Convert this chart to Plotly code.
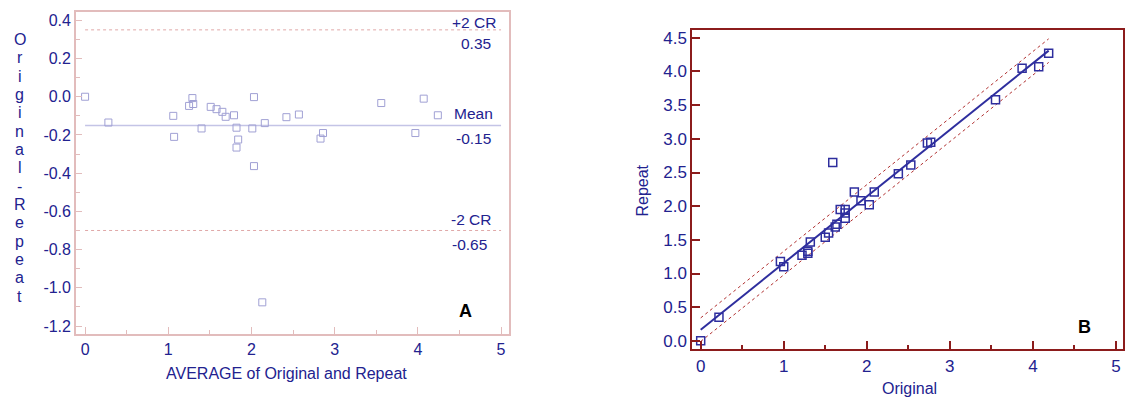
import plotly.graph_objects as go

# ---------------- Data ----------------
# Panel A: Bland-Altman (average vs difference)
avg_vals = [0.00, 0.28, 1.06, 1.07, 1.25, 1.29, 1.30, 1.40, 1.51, 1.58, 1.65, 1.69,
            1.79, 1.82, 1.84, 1.82, 2.01, 2.03, 2.03, 2.16, 2.13, 2.42, 2.57, 2.86,
            2.83, 3.56, 4.07, 3.97, 4.24]
diff_vals = [0.000, -0.135, -0.100, -0.210, -0.048, -0.007, -0.038, -0.166, -0.053, -0.065,
             -0.079, -0.105, -0.097, -0.162, -0.224, -0.266, -0.166, -0.002, -0.363, -0.138,
             -1.076, -0.107, -0.093, -0.190, -0.219, -0.033, -0.010, -0.190, -0.097]
upper_cr = 0.35
mean_diff = -0.15
lower_cr = -0.70
limit_x = [0, 5]
ref_labels = ["+2 CR", "0.35", "Mean", "-0.15", "-2 CR", "-0.65"]

# Panel B: Original vs Repeat
orig_vals = [0.00, 0.22, 0.96, 1.00, 1.22, 1.29, 1.29, 1.32, 1.50, 1.54, 1.62, 1.64,
             1.68, 1.74, 1.74, 1.74, 1.93, 2.03, 1.59, 1.85, 2.09, 2.38, 2.53, 2.73,
             2.77, 3.55, 3.87, 4.07, 4.19]
repeat_vals = [0.00, 0.35, 1.18, 1.10, 1.27, 1.30, 1.33, 1.47, 1.54, 1.60, 1.69, 1.73,
               1.95, 1.95, 1.90, 1.82, 2.08, 2.02, 2.65, 2.21, 2.21, 2.48, 2.61, 2.94,
               2.95, 3.58, 4.05, 4.07, 4.27]
fit_intercept = 0.166
fit_slope = 0.989
band_half = 0.175

# Tick labels
a_xticks = [0, 1, 2, 3, 4, 5]
a_xtext = ["0", "1", "2", "3", "4", "5"]
a_yticks = [0.4, 0.2, 0.0, -0.2, -0.4, -0.6, -0.8, -1.0, -1.2]
a_ytext = ["0.4", "0.2", "0.0", "-0.2", "-0.4", "-0.6", "-0.8", "-1.0", "-1.2"]
b_xticks = [0, 1, 2, 3, 4, 5]
b_xtext = ["0", "1", "2", "3", "4", "5"]
b_yticks = [0.0, 0.5, 1.0, 1.5, 2.0, 2.5, 3.0, 3.5, 4.0, 4.5]
b_ytext = ["0.0", "0.5", "1.0", "1.5", "2.0", "2.5", "3.0", "3.5", "4.0", "4.5"]

# ---------------- Styles ----------------
NAVY = "#22228f"
PINK = "#e2bcbc"
LAV = "#a0a0d4"
DARKRED = "#8c1c1c"
BLUE = "#2e2e9e"
FONT = "Liberation Sans, Arial, sans-serif"

fig = go.Figure()

# Panel A traces
fig.add_trace(go.Scatter(x=limit_x, y=[upper_cr, upper_cr], mode="lines",
                         line=dict(color="#e0a8a8", width=1, dash="dot"),
                         xaxis="x", yaxis="y", hoverinfo="skip"))
fig.add_trace(go.Scatter(x=limit_x, y=[mean_diff, mean_diff], mode="lines",
                         line=dict(color="#c4c4e6", width=1.5),
                         xaxis="x", yaxis="y", hoverinfo="skip"))
fig.add_trace(go.Scatter(x=limit_x, y=[lower_cr, lower_cr], mode="lines",
                         line=dict(color="#e0a8a8", width=1, dash="dot"),
                         xaxis="x", yaxis="y", hoverinfo="skip"))
fig.add_trace(go.Scatter(x=avg_vals, y=diff_vals, mode="markers",
                         marker=dict(symbol="square-open", size=7, color=LAV,
                                     line=dict(color=LAV, width=1)),
                         xaxis="x", yaxis="y"))

# Panel B traces
x0, x1 = 0, max(orig_vals)
fx = [x0, x1]
fy = [fit_intercept + fit_slope * v for v in fx]
fig.add_trace(go.Scatter(x=fx, y=[v + band_half for v in fy], mode="lines",
                         line=dict(color="#b03030", width=1, dash="dot"),
                         xaxis="x2", yaxis="y2", hoverinfo="skip"))
fig.add_trace(go.Scatter(x=fx, y=[v - band_half for v in fy], mode="lines",
                         line=dict(color="#b03030", width=1, dash="dot"),
                         xaxis="x2", yaxis="y2", hoverinfo="skip"))
fig.add_trace(go.Scatter(x=fx, y=fy, mode="lines",
                         line=dict(color=BLUE, width=2),
                         xaxis="x2", yaxis="y2", hoverinfo="skip"))
fig.add_trace(go.Scatter(x=orig_vals, y=repeat_vals, mode="markers",
                         marker=dict(symbol="square-open", size=8, color=BLUE,
                                     line=dict(color=BLUE, width=1.5)),
                         xaxis="x2", yaxis="y2"))

W, H = 1125, 403

def px_x(p):
    return p / W

def px_y(p):
    return (H - p) / H

tickfont_a = dict(family=FONT, size=16, color=NAVY)
tickfont_b = dict(family=FONT, size=17, color=NAVY)

fig.update_layout(
    width=W, height=H,
    margin=dict(l=0, r=0, t=0, b=0),
    paper_bgcolor="white", plot_bgcolor="white",
    showlegend=False,
    font=dict(family=FONT, color=NAVY),
    xaxis=dict(domain=[px_x(76), px_x(509)], range=[-0.11, 5.09], anchor="y",
               tickvals=a_xticks, ticktext=a_xtext, tickfont=tickfont_a,
               ticks="inside", ticklen=7, tickcolor=PINK, tickwidth=1,
               minor=dict(dtick=0.5, tick0=0, ticks="inside", ticklen=4, tickcolor=PINK),
               showline=True, linecolor=PINK, linewidth=1.5, mirror=True,
               showgrid=False, zeroline=False, ticklabeloverflow="allow"),
    yaxis=dict(domain=[px_y(335), px_y(10)], range=[-1.24, 0.444], anchor="x",
               tickvals=a_yticks, ticktext=a_ytext, tickfont=tickfont_a,
               ticks="inside", ticklen=6, tickcolor=PINK, tickwidth=1,
               minor=dict(dtick=0.1, tick0=0, ticks="inside", ticklen=4, tickcolor=PINK),
               showline=True, linecolor=PINK, linewidth=1.5, mirror=True,
               showgrid=False, zeroline=False, ticklabeloverflow="allow"),
    xaxis2=dict(domain=[px_x(693), px_x(1124)], range=[-0.10, 5.085], anchor="y2",
                tickvals=b_xticks, ticktext=b_xtext, tickfont=tickfont_b,
                ticks="inside", ticklen=8, tickcolor=DARKRED, tickwidth=1.5,
                minor=dict(dtick=0.5, tick0=0, ticks="inside", ticklen=4, tickcolor=DARKRED),
                showline=True, linecolor=DARKRED, linewidth=2, mirror=True,
                showgrid=False, zeroline=False, ticklabeloverflow="allow"),
    yaxis2=dict(domain=[px_y(350.7), px_y(28.7)], range=[-0.124, 4.61], anchor="x2",
                tickvals=b_yticks, ticktext=b_ytext, tickfont=tickfont_b,
                ticks="inside", ticklen=8, tickcolor=DARKRED, tickwidth=1.5,
                showline=True, linecolor=DARKRED, linewidth=2, mirror=True,
                showgrid=False, zeroline=False, ticklabeloverflow="allow"),
)

# Panel A reference labels
label_pos = [(4.96, 0.389), (4.90, 0.28), (4.93, -0.09), (4.90, -0.219), (4.90, -0.644), (4.85, -0.773)]
for txt, (lx, ly) in zip(ref_labels, label_pos):
    fig.add_annotation(x=lx, y=ly, xref="x", yref="y", text=txt, showarrow=False,
                       xanchor="right", yanchor="middle",
                       font=dict(family=FONT, size=15.5, color=NAVY))

# Panel A x title
fig.add_annotation(x=px_x(287), y=px_y(375), xref="paper", yref="paper",
                   text="AVERAGE of Original and Repeat", showarrow=False,
                   xanchor="center", yanchor="middle",
                   font=dict(family=FONT, size=16, color=NAVY))

# Panel A y title (stacked letters)
for i, ch in enumerate("Original-Repeat"):
    fig.add_annotation(x=px_x(20), y=px_y(38 + 18.5 * i), xref="paper", yref="paper",
                       text=ch, showarrow=False, xanchor="center", yanchor="middle",
                       font=dict(family=FONT, size=16, color=NAVY))

# Panel B axis titles
fig.add_annotation(x=px_x(910), y=px_y(390), xref="paper", yref="paper",
                   text="Original", showarrow=False, xanchor="center", yanchor="middle",
                   font=dict(family=FONT, size=16, color=NAVY))
fig.add_annotation(x=px_x(643), y=px_y(190), xref="paper", yref="paper",
                   text="Repeat", showarrow=False, xanchor="center", yanchor="middle",
                   textangle=-90, font=dict(family=FONT, size=16, color=NAVY))

# Panel letters
fig.add_annotation(x=px_x(466), y=px_y(312), xref="paper", yref="paper", text="<b>A</b>",
                   showarrow=False, xanchor="center", yanchor="middle",
                   font=dict(family=FONT, size=18, color="black"))
fig.add_annotation(x=px_x(1085), y=px_y(328), xref="paper", yref="paper", text="<b>B</b>",
                   showarrow=False, xanchor="center", yanchor="middle",
                   font=dict(family=FONT, size=18, color="black"))

fig.write_html("out.html", config={"displayModeBar": False},
               post_script="document.body.style.margin='0';")
